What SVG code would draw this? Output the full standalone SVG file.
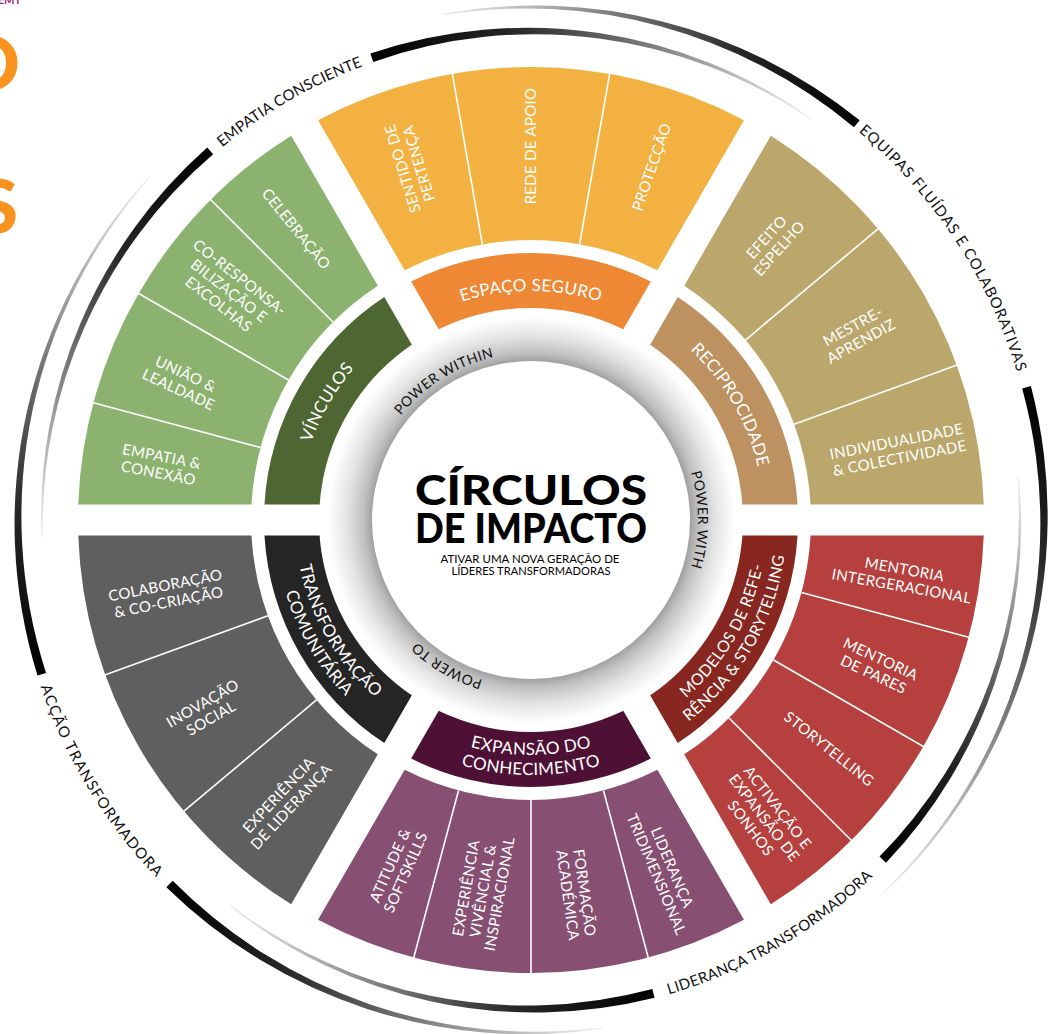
<svg xmlns="http://www.w3.org/2000/svg" xmlns:xlink="http://www.w3.org/1999/xlink" width="1059" height="1034" viewBox="0 0 1059 1034">
<style>
.t{font-family:Lato,"Liberation Sans",sans-serif;fill:#fff;font-size:15px;text-anchor:middle;letter-spacing:0.3px}
.b{font-family:Lato,"Liberation Sans",sans-serif;fill:#fff;font-size:17px;text-anchor:middle;letter-spacing:0.3px}
.o{font-family:Lato,"Liberation Sans",sans-serif;fill:#111;font-size:15px;text-anchor:middle}
.p{font-family:Lato,"Liberation Sans",sans-serif;fill:#111;font-size:14px;text-anchor:middle;letter-spacing:0.5px}
.dv{stroke:#fff;stroke-width:1.6}
.h{font-family:Lato,"Liberation Sans",sans-serif;font-weight:900;font-size:41px;text-anchor:middle;fill:#000}
.s{font-family:Lato,"Liberation Sans",sans-serif;font-size:10.5px;text-anchor:middle;fill:#000}
</style>
<defs>
<path id="wo" d="M318.06,120.17 A453,453 0 0 1 743.95,120.17 L657.36,270.13 A280,280 0 0 0 404.64,270.13 Z"/>
<path id="wb" d="M411.15,281.41 A267,267 0 0 1 650.85,281.41 L622.29,330.88 A210,210 0 0 0 439.71,330.88 Z"/>
<linearGradient id="fade"><stop offset="0" stop-color="#000"/><stop offset="0.3" stop-color="#262626"/><stop offset="0.62" stop-color="#7d7d7d"/><stop offset="0.85" stop-color="#c4c4c4"/><stop offset="1" stop-color="#f2f2f2"/></linearGradient>
<linearGradient id="gA1" href="#fade" gradientUnits="userSpaceOnUse" x1="372" y1="58" x2="811" y2="119"/>
<linearGradient id="gA2" href="#fade" gradientUnits="userSpaceOnUse" x1="210" y1="151" x2="42" y2="537"/>
<linearGradient id="gB1" href="#fade" gradientUnits="userSpaceOnUse" x1="857" y1="124" x2="442" y2="15"/>
<linearGradient id="gB2" href="#fade" gradientUnits="userSpaceOnUse" x1="1026" y1="387" x2="881" y2="895"/>
<linearGradient id="gC1" href="#fade" gradientUnits="userSpaceOnUse" x1="883" y1="860" x2="1018" y2="477"/>
<linearGradient id="gC2" href="#fade" gradientUnits="userSpaceOnUse" x1="653" y1="993" x2="230" y2="905"/>
<linearGradient id="gD1" href="#fade" gradientUnits="userSpaceOnUse" x1="170" y1="884" x2="602" y2="1028"/>
<linearGradient id="gD2" href="#fade" gradientUnits="userSpaceOnUse" x1="42" y1="674" x2="150" y2="177"/>
<radialGradient id="sh" gradientUnits="userSpaceOnUse" cx="531" cy="520" r="212"><stop offset="0.74" stop-color="#999"/><stop offset="0.79" stop-color="#c0c0c0"/><stop offset="0.87" stop-color="#e4e4e4"/><stop offset="0.96" stop-color="#fff"/></radialGradient>
<path id="pES" d="M332.68,405.5 A229,229 0 0 1 729.32,405.5"/>
<path id="pVI" d="M329.22,636.5 A233,233 0 0 1 531,287"/>
<path id="pRE" d="M531,287 A233,233 0 0 1 732.78,636.5"/>
<path id="pMO1" d="M531,756 A236,236 0 0 0 735.38,402"/>
<path id="pMO2" d="M531,776 A256,256 0 0 0 752.70,392"/>
<path id="pEX1" d="M327.48,637.5 A235,235 0 0 0 734.52,637.5"/>
<path id="pEX2" d="M310.16,647.5 A255,255 0 0 0 751.84,647.5"/>
<path id="pTR1" d="M326.62,402 A236,236 0 0 0 531,756"/>
<path id="pTR2" d="M309.30,392 A256,256 0 0 0 531,776"/>
<path id="pPW1" d="M364.10,525.83 A167,167 0 0 1 609.40,372.55"/>
<path id="pPW2" d="M614.5,375.37 A167,167 0 0 1 614.5,664.63"/>
<path id="pPW3" d="M614.5,664.63 A167,167 0 0 1 364,520"/>
<path id="pEM" d="M47,520 A484,484 0 0 1 773,100.84"/>
<path id="pEQ" d="M500.87,12.89 A508,508 0 0 1 985.23,747.46"/>
<path id="pLI" d="M284,947.82 A494,494 0 0 0 1025,520"/>
<path id="pAC" d="M77.07,270.45 A518,518 0 0 0 541.85,1037.89"/>
</defs>
<rect width="1059" height="1034" fill="#fff"/>

<g id="page-fragments">
<text x="21" y="4" style="font-family:Lato,'Liberation Sans',sans-serif;font-size:11px;font-weight:700;fill:#9b2a7e;text-anchor:end">EMT</text>
<text x="20" y="90" style="font-family:Lato,'Liberation Sans',sans-serif;font-size:75px;font-weight:900;fill:#F7931E;text-anchor:end">O</text>
<text x="18" y="233" style="font-family:Lato,'Liberation Sans',sans-serif;font-size:75px;font-weight:900;fill:#F7931E;text-anchor:end">S</text>
</g>

<g id="outer-arcs">
<path fill="url(#gA1)" d="M370.33,53.39 A491.6,491.6 0 0 1 811.91,118.82 L811.05,120.05 A486.4,486.4 0 0 0 373.26,61.90 Z"/>
<path fill="url(#gA2)" d="M207.23,147.55 A491.6,491.6 0 0 0 41.55,537.09 L43.05,537.04 A486.4,486.4 0 0 1 213.14,154.34 Z"/>
<path fill="url(#gB1)" d="M859.67,120.27 A515.6,515.6 0 0 0 441.79,14.06 L442.05,15.53 A510.4,510.4 0 0 1 853.95,127.22 Z"/>
<path fill="url(#gB2)" d="M1030.87,386.06 A515.6,515.6 0 0 1 881.38,895.73 L880.35,894.63 A510.4,510.4 0 0 0 1022.17,388.39 Z"/>
<path fill="url(#gC1)" d="M885.99,862.81 A491.6,491.6 0 0 0 1018.89,477.31 L1017.40,477.44 A486.4,486.4 0 0 1 879.52,856.57 Z"/>
<path fill="url(#gC2)" d="M654.56,997.78 A491.6,491.6 0 0 1 229.48,905.93 L230.41,904.75 A486.4,486.4 0 0 0 652.31,989.07 Z"/>
<path fill="url(#gD1)" d="M166.35,887.20 A515.6,515.6 0 0 0 602.50,1028.75 L602.29,1027.27 A510.4,510.4 0 0 1 172.70,880.82 Z"/>
<path fill="url(#gD2)" d="M37.45,675.62 A515.6,515.6 0 0 1 149.21,176.23 L150.32,177.23 A510.4,510.4 0 0 0 46.03,672.91 Z"/>
<text class="o"><textPath href="#pEM" startOffset="50%" textLength="163">EMPATIA CONSCIENTE</textPath></text>
<text class="o"><textPath href="#pEQ" startOffset="50%" textLength="292">EQUIPAS FLUÍDAS E COLABORATIVAS</textPath></text>
<text class="o"><textPath href="#pLI" startOffset="50%" textLength="238">LIDERANÇA TRANSFORMADORA</textPath></text>
<text class="o"><textPath href="#pAC" startOffset="50%" textLength="225">ACÇÃO TRANSFORMADORA</textPath></text>
</g>

<g id="espaco-seguro">
<use href="#wo" fill="#F2B141"/>
<use href="#wb" fill="#EE8834"/>
<line class="dv" x1="482.38" y1="244.25" x2="451.99" y2="71.91"/>
<line class="dv" x1="579.62" y1="244.25" x2="610.01" y2="71.91"/>
<text class="t" transform="translate(411 166) rotate(-107)"><tspan x="0" y="-3.5">SENTIDO DE</tspan><tspan x="0" y="13.5">PERTENÇA</tspan></text>
<text class="t" transform="translate(531 146) rotate(-90)" y="5">REDE DE APOIO</text>
<text class="t" transform="translate(652 167) rotate(-71)" y="5">PROTECÇÃO</text>
<text class="b"><textPath href="#pES" startOffset="50%">ESPAÇO SEGURO</textPath></text>
</g>

<g id="reciprocidade">
<use href="#wo" fill="#BBA76B" transform="rotate(60 531 520)"/>
<use href="#wb" fill="#BD9260" transform="rotate(60 531 520)"/>
<line class="dv" x1="745.49" y1="340.02" x2="879.55" y2="227.53"/>
<line class="dv" x1="794.11" y1="424.23" x2="958.56" y2="364.38"/>
<text class="t" transform="translate(773 243) rotate(-48)"><tspan x="0" y="-3.5">EFEITO</tspan><tspan x="0" y="13.5">ESPELHO</tspan></text>
<text class="t" transform="translate(857 334) rotate(-29)"><tspan x="0" y="-3.5">MESTRE-</tspan><tspan x="0" y="13.5">APRENDIZ</tspan></text>
<text class="t" transform="translate(898 450) rotate(-11)"><tspan x="0" y="-3.5">INDIVIDUALIDADE</tspan><tspan x="0" y="13.5">&amp; COLECTIVIDADE</tspan></text>
<text class="b"><textPath href="#pRE" startOffset="50%">RECIPROCIDADE</textPath></text>
</g>

<g id="modelos-de-referencia">
<use href="#wo" fill="#B5403D" transform="rotate(120 531 520)"/>
<use href="#wb" fill="#87271F" transform="rotate(120 531 520)"/>
<line class="dv" x1="801.46" y1="592.47" x2="970.50" y2="637.76"/>
<line class="dv" x1="773.49" y1="660" x2="925.04" y2="747.5"/>
<line class="dv" x1="728.99" y1="717.99" x2="852.74" y2="841.74"/>
<text class="t" transform="translate(903 578) rotate(10)"><tspan x="0" y="-3.5">MENTORIA</tspan><tspan x="0" y="13.5">INTERGERACIONAL</tspan></text>
<text class="t" transform="translate(877 667) rotate(25)"><tspan x="0" y="-3.5">MENTORIA</tspan><tspan x="0" y="13.5">DE PARES</tspan></text>
<text class="t" transform="translate(829 749) rotate(38.5)" y="5">STORYTELLING</text>
<text class="t" transform="translate(764 818) rotate(52.5)"><tspan x="0" y="-12">ACTIVAÇÃO E</tspan><tspan x="0" y="5">EXPANSÃO DE</tspan><tspan x="0" y="22">SONHOS</tspan></text>
<text class="b" style="font-size:16px"><textPath href="#pMO1" startOffset="50%">MODELOS DE REFE-</textPath></text>
<text class="b" style="font-size:16px"><textPath href="#pMO2" startOffset="50%">RÊNCIA &amp; STORYTELLING</textPath></text>
</g>

<g id="expansao-do-conhecimento">
<use href="#wo" fill="#874F72" transform="rotate(180 531 520)"/>
<use href="#wb" fill="#4E1135" transform="rotate(180 531 520)"/>
<line class="dv" x1="603.47" y1="790.46" x2="648.76" y2="959.50"/>
<line class="dv" x1="531" y1="800" x2="531" y2="975"/>
<line class="dv" x1="458.53" y1="790.46" x2="413.24" y2="959.50"/>
<text class="t" transform="translate(398 869) rotate(-66)"><tspan x="0" y="-3.5">ATITUDE &amp;</tspan><tspan x="0" y="13.5">SOFTSKILLS</tspan></text>
<text class="t" transform="translate(483 891) rotate(-80)"><tspan x="0" y="-12">EXPERIÊNCIA</tspan><tspan x="0" y="5">VIVÊNCIAL &amp;</tspan><tspan x="0" y="22">INSPIRACIONAL</tspan></text>
<text class="t" transform="translate(576 894) rotate(82)"><tspan x="0" y="-3.5">FORMAÇÃO</tspan><tspan x="0" y="13.5">ACADÉMICA</tspan></text>
<text class="t" transform="translate(664 871) rotate(67)"><tspan x="0" y="-3.5">LIDERANÇA</tspan><tspan x="0" y="13.5">TRIDIMENSIONAL</tspan></text>
<text class="b"><textPath href="#pEX1" startOffset="50%">EXPANSÃO DO</textPath></text>
<text class="b"><textPath href="#pEX2" startOffset="50%">CONHECIMENTO</textPath></text>
</g>

<g id="transformacao-comunitaria">
<use href="#wo" fill="#5F5F5F" transform="rotate(240 531 520)"/>
<use href="#wb" fill="#252525" transform="rotate(240 531 520)"/>
<line class="dv" x1="316.51" y1="699.98" x2="182.45" y2="812.47"/>
<line class="dv" x1="267.89" y1="615.77" x2="103.44" y2="675.62"/>
<text class="t" transform="translate(167 594) rotate(-11)"><tspan x="0" y="-3.5">COLABORAÇÃO</tspan><tspan x="0" y="13.5">&amp; CO-CRIAÇÃO</tspan></text>
<text class="t" transform="translate(207 711) rotate(-30)"><tspan x="0" y="-3.5">INOVAÇÃO</tspan><tspan x="0" y="13.5">SOCIAL</tspan></text>
<text class="t" transform="translate(285 801) rotate(-47)"><tspan x="0" y="-3.5">EXPERIÊNCIA</tspan><tspan x="0" y="13.5">DE LIDERANÇA</tspan></text>
<text class="b"><textPath href="#pTR1" startOffset="50%">TRANSFORMAÇÃO</textPath></text>
<text class="b"><textPath href="#pTR2" startOffset="50%">COMUNITÁRIA</textPath></text>
</g>

<g id="vinculos">
<use href="#wo" fill="#8BB26F" transform="rotate(300 531 520)"/>
<use href="#wb" fill="#4E6632" transform="rotate(300 531 520)"/>
<line class="dv" x1="333.01" y1="322.01" x2="209.26" y2="198.26"/>
<line class="dv" x1="288.51" y1="380" x2="136.96" y2="292.5"/>
<line class="dv" x1="260.54" y1="447.53" x2="91.50" y2="402.24"/>
<text class="t" transform="translate(296 229) rotate(51)" y="5">CELEBRAÇÃO</text>
<text class="t" transform="translate(229 291) rotate(38)"><tspan x="0" y="-12">CO-RESPONSA-</tspan><tspan x="0" y="5">BILIZAÇÃO E</tspan><tspan x="0" y="22">EXCOLHAS</tspan></text>
<text class="t" transform="translate(182 382) rotate(25)"><tspan x="0" y="-3.5">UNIÃO &amp;</tspan><tspan x="0" y="13.5">LEALDADE</tspan></text>
<text class="t" transform="translate(160 465) rotate(11)"><tspan x="0" y="-3.5">EMPATIA &amp;</tspan><tspan x="0" y="13.5">CONEXÃO</tspan></text>
<text class="b"><textPath href="#pVI" startOffset="50%">VÍNCULOS</textPath></text>
</g>

<g id="centro">
<circle cx="531" cy="520" r="212" fill="url(#sh)"/>
<circle cx="531" cy="520" r="159" fill="#fff"/>
<text class="h" x="531" y="505" textLength="232" lengthAdjust="spacingAndGlyphs">CÍRCULOS</text>
<text class="h" x="531" y="543" textLength="232" lengthAdjust="spacingAndGlyphs">DE IMPACTO</text>
<text class="s" x="530" y="563" textLength="179" lengthAdjust="spacingAndGlyphs">ATIVAR UMA NOVA GERAÇÃO DE</text>
<text class="s" x="531" y="575" textLength="159" lengthAdjust="spacingAndGlyphs">LÍDERES TRANSFORMADORAS</text>
<text class="p"><textPath href="#pPW1" startOffset="50%">POWER WITHIN</textPath></text>
<text class="p"><textPath href="#pPW2" startOffset="50%">POWER WITH</textPath></text>
<text class="p"><textPath href="#pPW3" startOffset="50%">POWER TO</textPath></text>
</g>
</svg>
